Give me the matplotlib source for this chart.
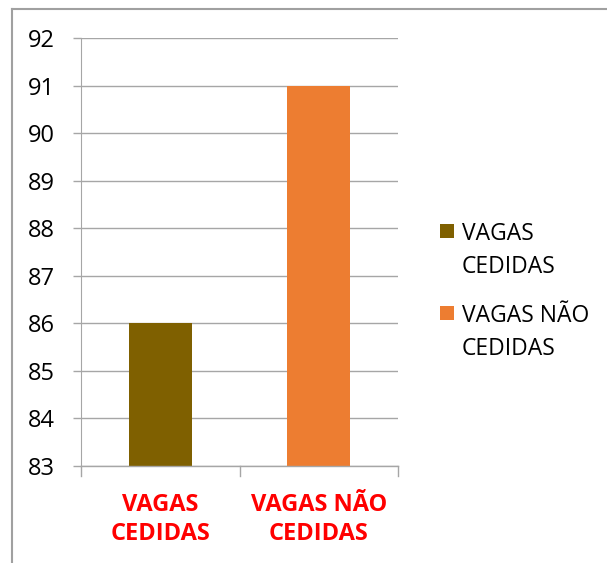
import matplotlib
matplotlib.use("Agg")
import matplotlib.pyplot as plt
from matplotlib.lines import Line2D
from matplotlib.patches import Rectangle

categories = ["VAGAS\nCEDIDAS", "VAGAS NÃO\nCEDIDAS"]
series_names = ["VAGAS\nCEDIDAS", "VAGAS NÃO\nCEDIDAS"]
values = [86, 91]
colors = ["#7F6000", "#ED7D31"]
yticks = [83, 84, 85, 86, 87, 88, 89, 90, 91, 92]

plt.rcParams['font.family'] = ['Open Sans', 'DejaVu Sans']

W, H = 607, 563
fig = plt.figure(figsize=(W / 100, H / 100), dpi=100)
ax = fig.add_axes([81 / W, 1 - 466 / H, (398 - 81) / W, (466 - 38) / H])

x = list(range(len(categories)))
ax.bar(x, values, width=0.4, color=colors, bottom=0, zorder=3)
ax.set_xlim(-0.5, len(categories) - 0.5)
ax.set_ylim(yticks[0], yticks[-1])
ax.set_yticks(yticks)
ax.set_yticklabels([str(t) for t in yticks], fontsize=17)
ax.yaxis.grid(True, color="#A6A6A6", linewidth=1, zorder=0)

for s in ["top", "right", "bottom"]:
    ax.spines[s].set_visible(False)
ax.spines["left"].set_color("#A6A6A6")
ax.tick_params(axis="y", length=6, color="#A6A6A6", pad=13, width=1)

# category labels
ax.set_xticks([])
for xi, c in zip(x, categories):
    ax.text(xi, -0.062, c, transform=ax.get_xaxis_transform(), ha="center", va="top",
            color="#FF0000", fontsize=17, fontweight="bold", linespacing=1.28)
# bottom axis line with tick marks at category boundaries
ax.plot([-0.5, len(categories) - 0.5], [0, 0], transform=ax.get_xaxis_transform(),
        color="#A6A6A6", lw=1, clip_on=False, zorder=4)
for b in [-0.5 + i for i in range(len(categories) + 1)]:
    ax.plot([b, b], [0, -0.023], transform=ax.get_xaxis_transform(),
            color="#A6A6A6", lw=1, clip_on=False)

# legend (drawn manually so the key aligns with the first text line)
leg_tops = [224, 306]
for name, col, top in zip(series_names, colors, leg_tops):
    fig.add_artist(Rectangle((440 / W, 1 - (top + 14) / H), 14 / W, 14 / H,
                             transform=fig.transFigure, facecolor=col, edgecolor="none"))
    fig.text(462 / W, 1 - (top - 2) / H, name, ha="left", va="top", fontsize=16.5,
             linespacing=1.5, color="#000000")

fig.add_artist(Line2D([12.5 / W, 12.5 / W], [0, 1 - 9 / H], color="#A0A0A0", lw=1.5))
fig.add_artist(Line2D([12.5 / W, 606 / W], [1 - 9 / H, 1 - 9 / H], color="#A0A0A0", lw=1.5))

fig.savefig("out.png", dpi=100)
